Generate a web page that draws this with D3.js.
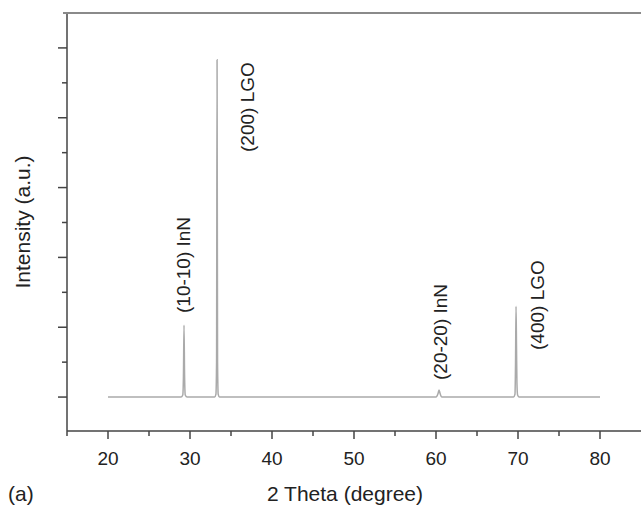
<!DOCTYPE html>
<html>
<head>
<meta charset="utf-8">
<script src="https://cdn.jsdelivr.net/npm/d3@7"></script>
<style>
  body { margin: 0; background: #fff; }
  svg { display: block; }
  text { font-family: "Liberation Sans", Arial, sans-serif; fill: #222; }
</style>
</head>
<body>
<script>
// 2theta / intensity points (baseline + 4 peaks)
var theta = [20, 28.9, 29.12, 29.2, 29.27, 29.34, 29.42, 29.65,
  33.0, 33.16, 33.24, 33.3, 33.36, 33.44, 33.6,
  60.0, 60.25, 60.37, 60.5, 60.7,
  69.45, 69.63, 69.7, 69.76, 69.82, 69.87, 69.95, 70.15, 80]
var intensity = [0, 0, 0.03, 0.3, 1.03, 0.3, 0.03, 0,
  0, 0.04, 0.5, 4.83, 0.5, 0.04, 0,
  0, 0.05, 0.1, 0.05, 0,
  0, 0.04, 0.5, 1.3, 0.7, 0.2, 0.03, 0, 0]

var peakLabels = ["(10-10) InN", "(200) LGO", "(20-20) InN", "(400) LGO"]
var peakTheta = [29.27, 33.3, 60.37, 69.76]
var xTicks = [20, 30, 40, 50, 60, 70, 80]

var w = 641, h = 505

var svg = d3.select("body").append("svg")
  .attr("width", w)
  .attr("height", h)

// escalas
var x = d3.scaleLinear().domain([15, 85]).range([67, 641])
var y = d3.scaleLinear().domain([-0.486, 5.5]).range([431, 13])

var axisColor = "#444"

// eje x
var xAxis = svg.append("g").attr("transform", "translate(0,431)")
xAxis.append("line")
  .attr("x1", x(15)).attr("x2", x(85))
  .attr("stroke", axisColor).attr("stroke-width", 1.5)
xAxis.selectAll(".minor")
  .data(d3.range(15, 85, 5))
  .enter().append("line")
  .attr("x1", function(d) { return x(d) })
  .attr("x2", function(d) { return x(d) })
  .attr("y1", 0)
  .attr("y2", function(d) { return d % 10 == 0 ? 8 : 5 })
  .attr("stroke", axisColor).attr("stroke-width", 1.5)
xAxis.selectAll(".lbl")
  .data(xTicks)
  .enter().append("text")
  .attr("x", function(d) { return x(d) })
  .attr("y", 34)
  .attr("text-anchor", "middle")
  .attr("font-size", 19)
  .text(function(d) { return d })

// eje y (sin numeros)
var yAxis = svg.append("g").attr("transform", "translate(67,0)")
yAxis.append("line")
  .attr("y1", y(5.5)).attr("y2", y(-0.486))
  .attr("stroke", axisColor).attr("stroke-width", 1.5)
yAxis.selectAll(".t")
  .data(d3.range(0, 5.5, 0.5))
  .enter().append("line")
  .attr("y1", function(d) { return y(d) })
  .attr("y2", function(d) { return y(d) })
  .attr("x1", function(d) { return d % 1 == 0 ? -9 : -5 })
  .attr("x2", 0)
  .attr("stroke", axisColor).attr("stroke-width", 1.5)

// linea de arriba
svg.append("line")
  .attr("x1", 63).attr("x2", w)
  .attr("y1", y(5.5)).attr("y2", y(5.5))
  .attr("stroke", "#8a8a8a").attr("stroke-width", 2)

// el difractograma
var pts = d3.zip(theta, intensity)
var line = d3.line()
  .x(function(d) { return x(d[0]) })
  .y(function(d) { return y(d[1]) })
  .curve(d3.curveMonotoneX)

svg.append("path")
  .datum(pts)
  .attr("d", line)
  .attr("fill", "none")
  .attr("stroke", "#aaaaaa")
  .attr("stroke-width", 1.5)

// etiquetas de picos (rotadas)
var labelBase = [313, 152, 380, 350]
var labelDx = [6, 37, 8, 28]
svg.selectAll(".peak")
  .data(peakLabels)
  .enter().append("text")
  .attr("font-size", 19)
  .attr("transform", function(d, i) {
    return "translate(" + (x(peakTheta[i]) + labelDx[i]) + "," + labelBase[i] + ") rotate(-90)"
  })
  .text(function(d) { return d })

// titulos de ejes
svg.append("text")
  .attr("transform", "translate(30,222) rotate(-90)")
  .attr("text-anchor", "middle")
  .attr("font-size", 21)
  .text("Intensity (a.u.)")

svg.append("text")
  .attr("x", 345).attr("y", 501)
  .attr("text-anchor", "middle")
  .attr("font-size", 21)
  .text("2 Theta (degree)")

svg.append("text")
  .attr("x", 8).attr("y", 501)
  .attr("font-size", 21)
  .text("(a)")
</script>
</body>
</html>
